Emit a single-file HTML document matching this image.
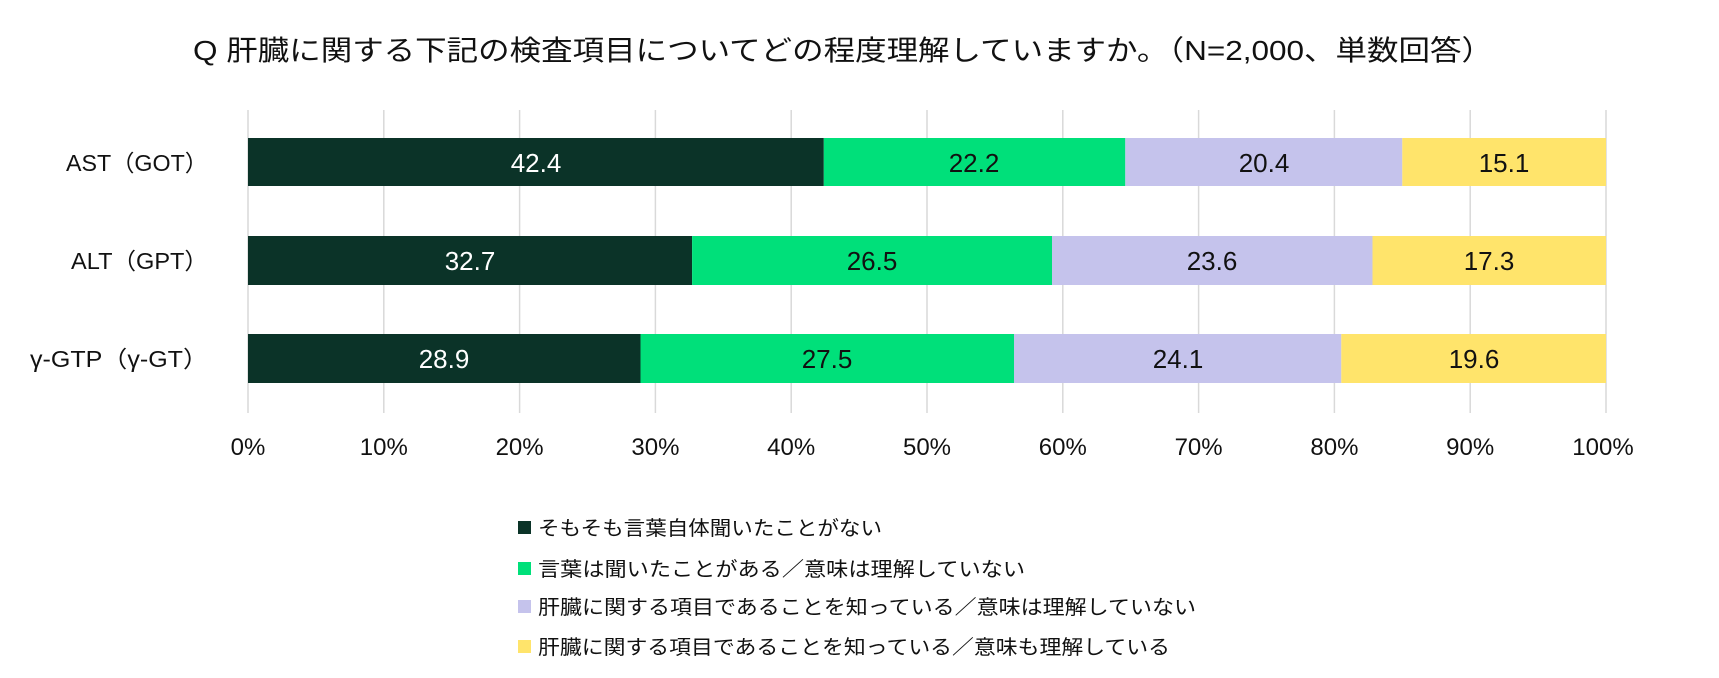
<!DOCTYPE html>
<html><head><meta charset="utf-8"><style>body{margin:0;background:#fff}svg{display:block}</style></head><body>
<svg width="1719" height="678" xmlns="http://www.w3.org/2000/svg" font-family="'Liberation Sans','Noto Sans CJK JP',sans-serif">
<text x="193" y="60" font-size="28" fill="#111" textLength="1300" lengthAdjust="spacingAndGlyphs">Q 肝臓に関する下記の検査項目についてどの程度理解していますか。（N=2,000、単数回答）</text>
<g stroke="#d9d9d9" stroke-width="1.5">
<line x1="248" y1="110" x2="248" y2="413"/><line x1="383.8" y1="110" x2="383.8" y2="413"/><line x1="519.6" y1="110" x2="519.6" y2="413"/><line x1="655.4" y1="110" x2="655.4" y2="413"/><line x1="791.2" y1="110" x2="791.2" y2="413"/><line x1="927" y1="110" x2="927" y2="413"/><line x1="1062.8" y1="110" x2="1062.8" y2="413"/><line x1="1198.6" y1="110" x2="1198.6" y2="413"/><line x1="1334.4" y1="110" x2="1334.4" y2="413"/><line x1="1470.2" y1="110" x2="1470.2" y2="413"/><line x1="1606" y1="110" x2="1606" y2="413"/>
</g>
<rect x="248" y="138" width="575.8" height="48" fill="#0b3328"/>
<rect x="823.8" y="138" width="301.5" height="48" fill="#00e07a"/>
<rect x="1125.3" y="138" width="277" height="48" fill="#c5c3ec"/>
<rect x="1402.3" y="138" width="203.7" height="48" fill="#ffe46b"/>
<rect x="248" y="236" width="444.1" height="49" fill="#0b3328"/>
<rect x="692.1" y="236" width="359.9" height="49" fill="#00e07a"/>
<rect x="1052" y="236" width="320.5" height="49" fill="#c5c3ec"/>
<rect x="1372.5" y="236" width="233.5" height="49" fill="#ffe46b"/>
<rect x="248" y="334" width="392.5" height="49" fill="#0b3328"/>
<rect x="640.5" y="334" width="373.5" height="49" fill="#00e07a"/>
<rect x="1014" y="334" width="327.3" height="49" fill="#c5c3ec"/>
<rect x="1341.3" y="334" width="264.7" height="49" fill="#ffe46b"/>
<g font-size="26" text-anchor="middle">
<text x="536" y="172" fill="#fff">42.4</text><text x="974" y="172" fill="#111">22.2</text><text x="1264" y="172" fill="#111">20.4</text><text x="1504" y="172" fill="#111">15.1</text>
<text x="470" y="270" fill="#fff">32.7</text><text x="872" y="270" fill="#111">26.5</text><text x="1212" y="270" fill="#111">23.6</text><text x="1489" y="270" fill="#111">17.3</text>
<text x="444" y="368" fill="#fff">28.9</text><text x="827" y="368" fill="#111">27.5</text><text x="1178" y="368" fill="#111">24.1</text><text x="1474" y="368" fill="#111">19.6</text>
</g>
<g font-size="23" text-anchor="end" fill="#111">
<text x="208" y="171" textLength="142" lengthAdjust="spacingAndGlyphs">AST（GOT）</text>
<text x="208" y="269" textLength="137" lengthAdjust="spacingAndGlyphs">ALT（GPT）</text>
<text x="208" y="367" textLength="178" lengthAdjust="spacingAndGlyphs">γ-GTP（γ-GT）</text>
</g>
<g font-size="24" text-anchor="middle" fill="#111">
<text x="248" y="455">0%</text><text x="383.8" y="455">10%</text><text x="519.6" y="455">20%</text><text x="655.4" y="455">30%</text><text x="791.2" y="455">40%</text><text x="927" y="455">50%</text><text x="1062.8" y="455">60%</text><text x="1198.6" y="455">70%</text><text x="1334.4" y="455">80%</text><text x="1470.2" y="455">90%</text><text x="1603" y="455">100%</text>
</g>
<rect x="518" y="521" width="13" height="13" fill="#0b3328"/>
<rect x="518" y="562" width="13" height="13" fill="#00e07a"/>
<rect x="518" y="600" width="13" height="13" fill="#c5c3ec"/>
<rect x="518" y="640" width="13" height="13" fill="#ffe46b"/>
<g font-size="20" fill="#111">
<text x="538" y="535" textLength="344" lengthAdjust="spacingAndGlyphs">そもそも言葉自体聞いたことがない</text>
<text x="538" y="576" textLength="487" lengthAdjust="spacingAndGlyphs">言葉は聞いたことがある／意味は理解していない</text>
<text x="538" y="614" textLength="658" lengthAdjust="spacingAndGlyphs">肝臓に関する項目であることを知っている／意味は理解していない</text>
<text x="538" y="654" textLength="632" lengthAdjust="spacingAndGlyphs">肝臓に関する項目であることを知っている／意味も理解している</text>
</g>
</svg>
</body></html>
